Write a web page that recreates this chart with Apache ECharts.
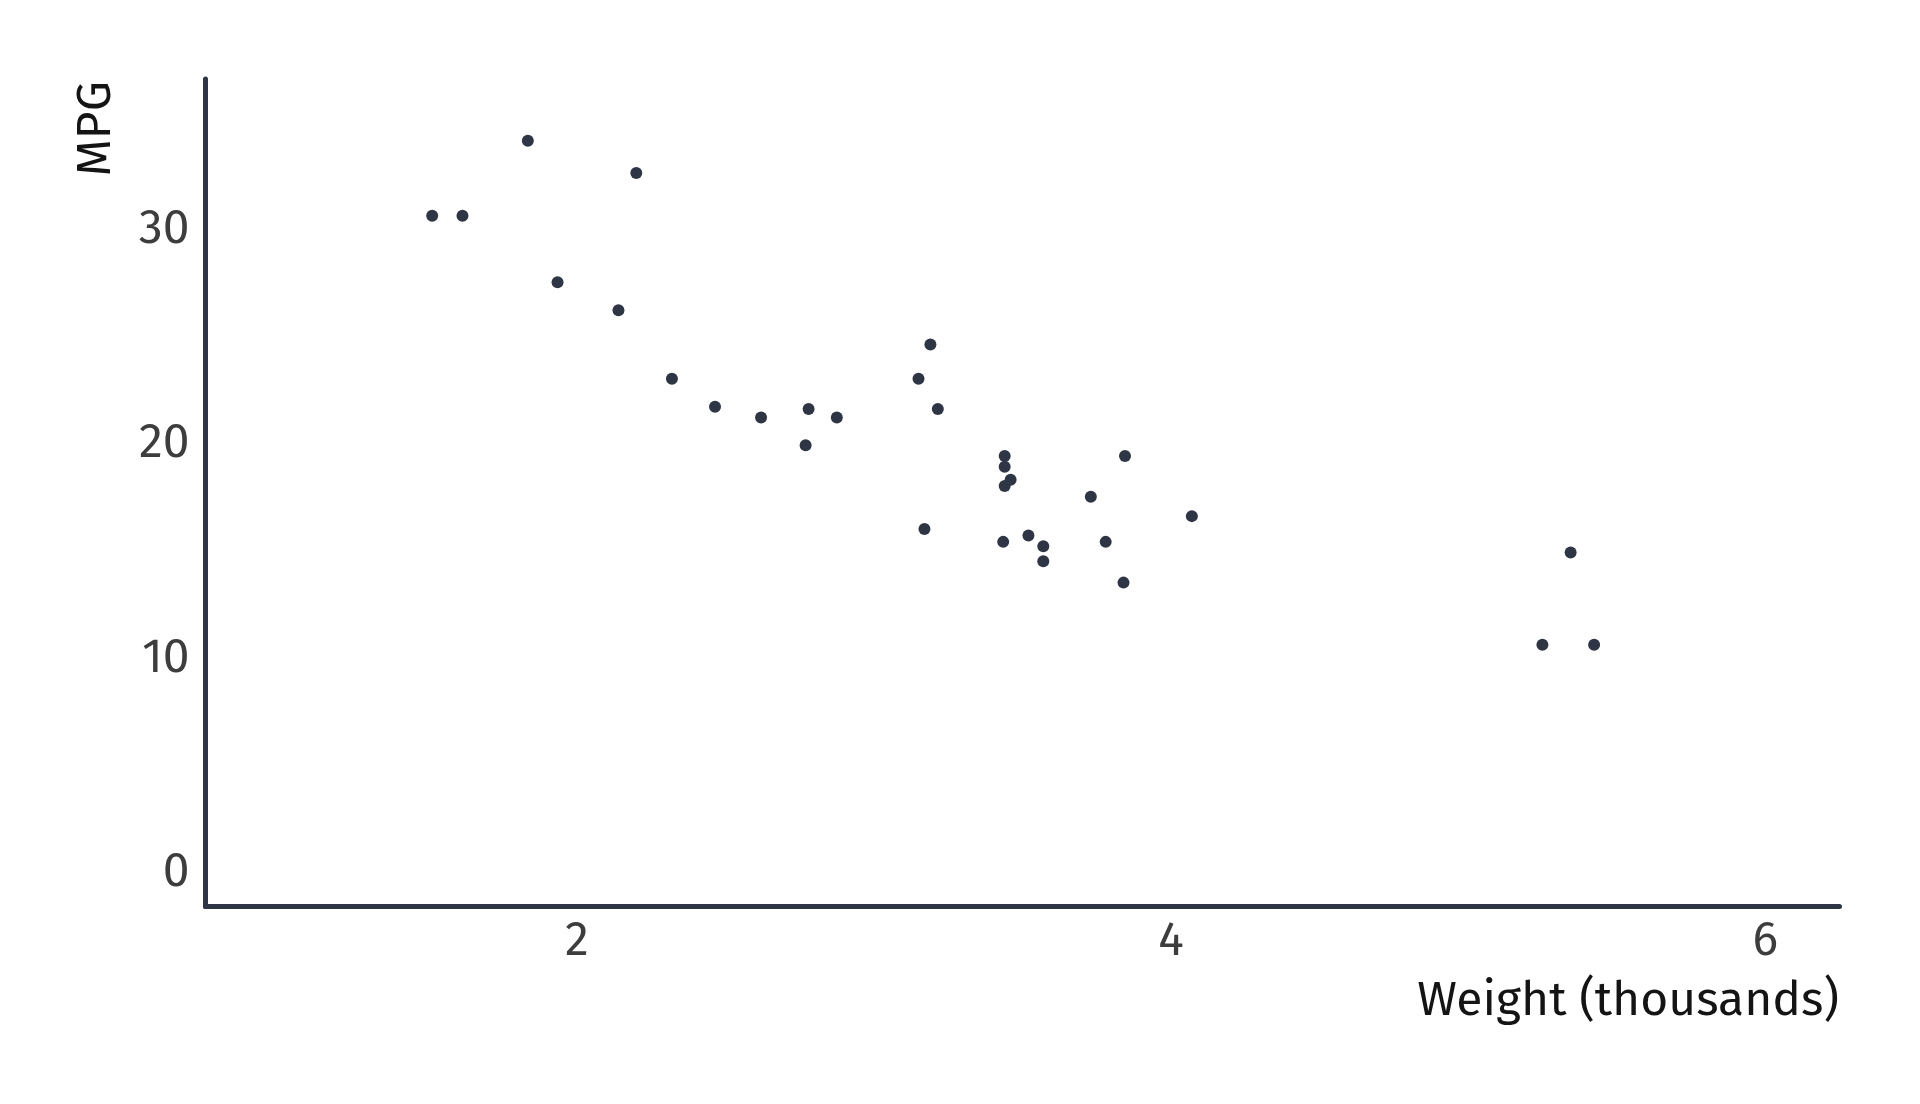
<!DOCTYPE html>
<html>
<head>
<meta charset="utf-8">
<script src="https://cdn.jsdelivr.net/npm/echarts@6/dist/echarts.min.js"></script>
<style>html,body{margin:0;padding:0;background:#fff;}#c{width:1920px;height:1104px;}</style>
</head>
<body>
<div id="c"></div>
<script>
// mtcars: weight (thousands of lbs) vs MPG
const weight = [2.620, 2.875, 2.320, 3.215, 3.440, 3.460, 3.570, 3.190, 3.150, 3.440, 3.440, 4.070, 3.730, 3.780, 5.250, 5.424, 5.345, 2.200, 1.615, 1.835, 2.465, 3.520, 3.435, 3.840, 3.845, 1.935, 2.140, 1.513, 3.170, 2.770, 3.570, 2.780];
const mpg = [21.0, 21.0, 22.8, 21.4, 18.7, 18.1, 14.3, 24.4, 22.8, 19.2, 17.8, 16.4, 17.3, 15.2, 10.4, 10.4, 14.7, 32.4, 30.4, 33.9, 21.5, 15.5, 15.2, 13.3, 19.2, 27.3, 26.0, 30.4, 15.8, 19.7, 15.0, 21.4];
const xTicks = [2, 4, 6];
const yTicks = [0, 10, 20, 30];
const xTitle = 'Weight (thousands)';
const yTitle = 'MPG';

const points = weight.map((w, i) => [w, mpg[i]]);
const FONT = '"Fira Sans", "Open Sans", "Noto Sans", sans-serif';
const chart = echarts.init(document.getElementById('c'), null, {renderer: 'canvas'});
chart.setOption({
  animation: false,
  backgroundColor: '#ffffff',
  grid: {left: 205.5, right: 80.5, top: 79, bottom: 197.5},
  xAxis: {
    type: 'value', min: 0.75, max: 6.25,
    splitLine: {show: false},
    axisTick: {show: false},
    axisLine: {show: true, onZero: false, lineStyle: {color: '#2e3646', width: 5}},
    axisLabel: {customValues: xTicks, fontSize: 48, color: '#3d3d3d', fontFamily: FONT, margin: 11}
  },
  yAxis: {
    type: 'value', min: -1.8, max: 36.78,
    splitLine: {show: false},
    axisTick: {show: false},
    axisLine: {show: true, onZero: false, lineStyle: {color: '#2e3646', width: 5}},
    axisLabel: {customValues: yTicks, fontSize: 48, color: '#3d3d3d', fontFamily: FONT, margin: 16,
                verticalAlign: 'top', lineHeight: 10}
  },
  graphic: [
    {type: 'text', x: 97, y: 81, rotation: Math.PI / 2,
     style: {text: yTitle, fontSize: 48, fontFamily: FONT, fill: '#141414', align: 'right', verticalAlign: 'middle'}},
    {type: 'text', x: 1839, y: 1002,
     style: {text: xTitle, fontSize: 48, fontFamily: FONT, fill: '#141414', align: 'right', verticalAlign: 'middle'}}
  ],
  series: [{
    type: 'scatter',
    data: points,
    symbol: 'circle',
    symbolSize: 12,
    itemStyle: {color: '#2e3646', opacity: 1}
  }]
});
</script>
</body>
</html>
